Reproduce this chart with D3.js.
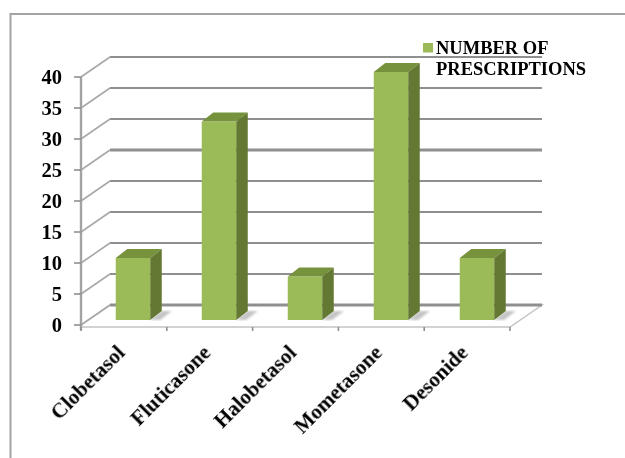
<!DOCTYPE html>
<html>
<head>
<meta charset="utf-8">
<script src="https://d3js.org/d3.v7.min.js"></script>
<style>
html,body{margin:0;padding:0;background:#fff}
svg{display:block}
text{font-family:"Liberation Serif",serif;font-weight:bold;fill:#000}
</style>
</head>
<body>
<script>
const drugs=["Clobetasol","Fluticasone","Halobetasol","Mometasone","Desonide"]
const prescriptions=[10,32,7,40,10]
const yTicks=[0,5,10,15,20,25,30,35,40]
const legendLines=["NUMBER OF","PRESCRIPTIONS"]

const m={width:625,height:458}
const depth={x:29,y:-20}
const barDepth={x:11.5,y:-9}

const svg=d3.select("body").append("svg")
    .attr("width",m.width)
    .attr("height",m.height)

const defs=svg.append("defs")
defs.append("filter").attr("id","soft")
    .append("feGaussianBlur").attr("stdDeviation",0.45)
defs.append("filter").attr("id","softText")
    .append("feGaussianBlur").attr("stdDeviation",0.3)
defs.append("filter").attr("id","shadow")
    .append("feGaussianBlur").attr("stdDeviation",1.2)

const y=d3.scaleLinear().domain([0,40]).range([325,77])
const x=d3.scaleBand().domain(drugs).range([81,510])
const barX=d3.scaleBand().domain(drugs).range([90,520])
const barH=d3.scaleLinear().domain([0,40]).range([0,248])
const barW=34.5
const barBase=320

// outer frame, only top and left show in the picture
svg.append("path")
    .attr("d","M10.5,458V14H625")
    .attr("fill","none")
    .attr("stroke","#a3a3a3")
    .attr("stroke-width",2)

const grid=svg.append("g").attr("filter","url(#soft)")

// floor
grid.append("path")
    .attr("d",`M${x.range()[0]},${y(0)}L${x.range()[0]+depth.x},${y(0)+depth.y}H${x.range()[1]+depth.x+3}L${x.range()[1]},${y(0)+2}H${x.range()[0]}Z`)
    .attr("fill","#fff")
    .attr("stroke","#c4c4c4")
    .attr("stroke-width",1.5)

grid.selectAll(".back")
    .data(yTicks)
    .enter().append("line")
    .attr("class","back")
    .attr("x1",x.range()[0]+depth.x)
    .attr("x2",542)
    .attr("y1",d=>y(d)+depth.y)
    .attr("y2",d=>y(d)+depth.y)
    .attr("stroke","#8f8f8f")
    .attr("stroke-width",d=>(d==25||d==0)?3:2)

grid.selectAll(".side")
    .data(yTicks)
    .enter().append("line")
    .attr("class","side")
    .attr("x1",x.range()[0])
    .attr("x2",x.range()[0]+depth.x)
    .attr("y1",d=>y(d))
    .attr("y2",d=>y(d)+depth.y)
    .attr("stroke","#a8a8a8")
    .attr("stroke-width",1.6)

// y axis line and ticks
grid.append("line")
    .attr("x1",81).attr("x2",81)
    .attr("y1",y(40)).attr("y2",y(0)+5)
    .attr("stroke","#a3a3a3")
    .attr("stroke-width",2.4)

grid.selectAll(".ytick")
    .data(yTicks)
    .enter().append("line")
    .attr("class","ytick")
    .attr("x1",74).attr("x2",81)
    .attr("y1",d=>y(d)).attr("y2",d=>y(d))
    .attr("stroke","#8f8f8f")
    .attr("stroke-width",1.6)

grid.selectAll(".xtick")
    .data(drugs.map(d=>x(d)).concat(x.range()[1]))
    .enter().append("line")
    .attr("class","xtick")
    .attr("x1",d=>d).attr("x2",d=>d)
    .attr("y1",y(0)+2).attr("y2",y(0)+6)
    .attr("stroke","#8f8f8f")
    .attr("stroke-width",1.6)

svg.selectAll(".ylab")
    .data(yTicks)
    .enter().append("text")
    .attr("class","ylab")
    .attr("x",62)
    .attr("y",d=>y(d)+6.5)
    .attr("text-anchor","end")
    .attr("font-size",20.5)
    .attr("filter","url(#softText)")
    .text(d=>d)

// bars
const left=d=>barX(d)+barX.bandwidth()/2-barW/2

const bars=svg.selectAll(".bar")
    .data(drugs.map((d,i)=>({name:d,value:prescriptions[i]})))
    .enter().append("g")
    .attr("class","bar")
    .attr("filter","url(#soft)")

bars.append("path")
    .attr("d",d=>{
        const r=left(d.name)+barW
        return `M${r},${barBase}L${r+barDepth.x},${barBase+barDepth.y}H${r+barDepth.x+10}L${r+10},${barBase}Z`
    })
    .attr("fill","#c4c4c4")
    .attr("filter","url(#shadow)")

bars.append("rect")
    .attr("x",d=>left(d.name))
    .attr("y",d=>barBase-barH(d.value))
    .attr("width",barW)
    .attr("height",d=>barH(d.value))
    .attr("fill","#9bbb59")

bars.append("path")
    .attr("d",d=>{
        const l=left(d.name),r=l+barW,t=barBase-barH(d.value)
        return `M${l},${t}L${l+barDepth.x},${t+barDepth.y}H${r+barDepth.x}L${r},${t}Z`
    })
    .attr("fill","#76923c")

bars.append("path")
    .attr("d",d=>{
        const r=left(d.name)+barW,t=barBase-barH(d.value)
        return `M${r},${t}L${r+barDepth.x},${t+barDepth.y}V${barBase+barDepth.y}L${r},${barBase}Z`
    })
    .attr("fill","#647833")

// category labels
svg.selectAll(".xlab")
    .data(drugs)
    .enter().append("text")
    .attr("class","xlab")
    .attr("text-anchor","end")
    .attr("font-size",21)
    .attr("filter","url(#softText)")
    .attr("transform",d=>`translate(${x(d)+x.bandwidth()/2+2},${y(0)+29}) rotate(-45)`)
    .text(d=>d)

// legend
svg.append("rect")
    .attr("x",423).attr("y",43)
    .attr("width",10).attr("height",9.5)
    .attr("fill","#9bbb59")

svg.selectAll(".leg")
    .data(legendLines)
    .enter().append("text")
    .attr("class","leg")
    .attr("x",436)
    .attr("y",(d,i)=>54+i*21)
    .attr("font-size",18.5)
    .attr("filter","url(#softText)")
    .text(d=>d)
</script>
</body>
</html>
